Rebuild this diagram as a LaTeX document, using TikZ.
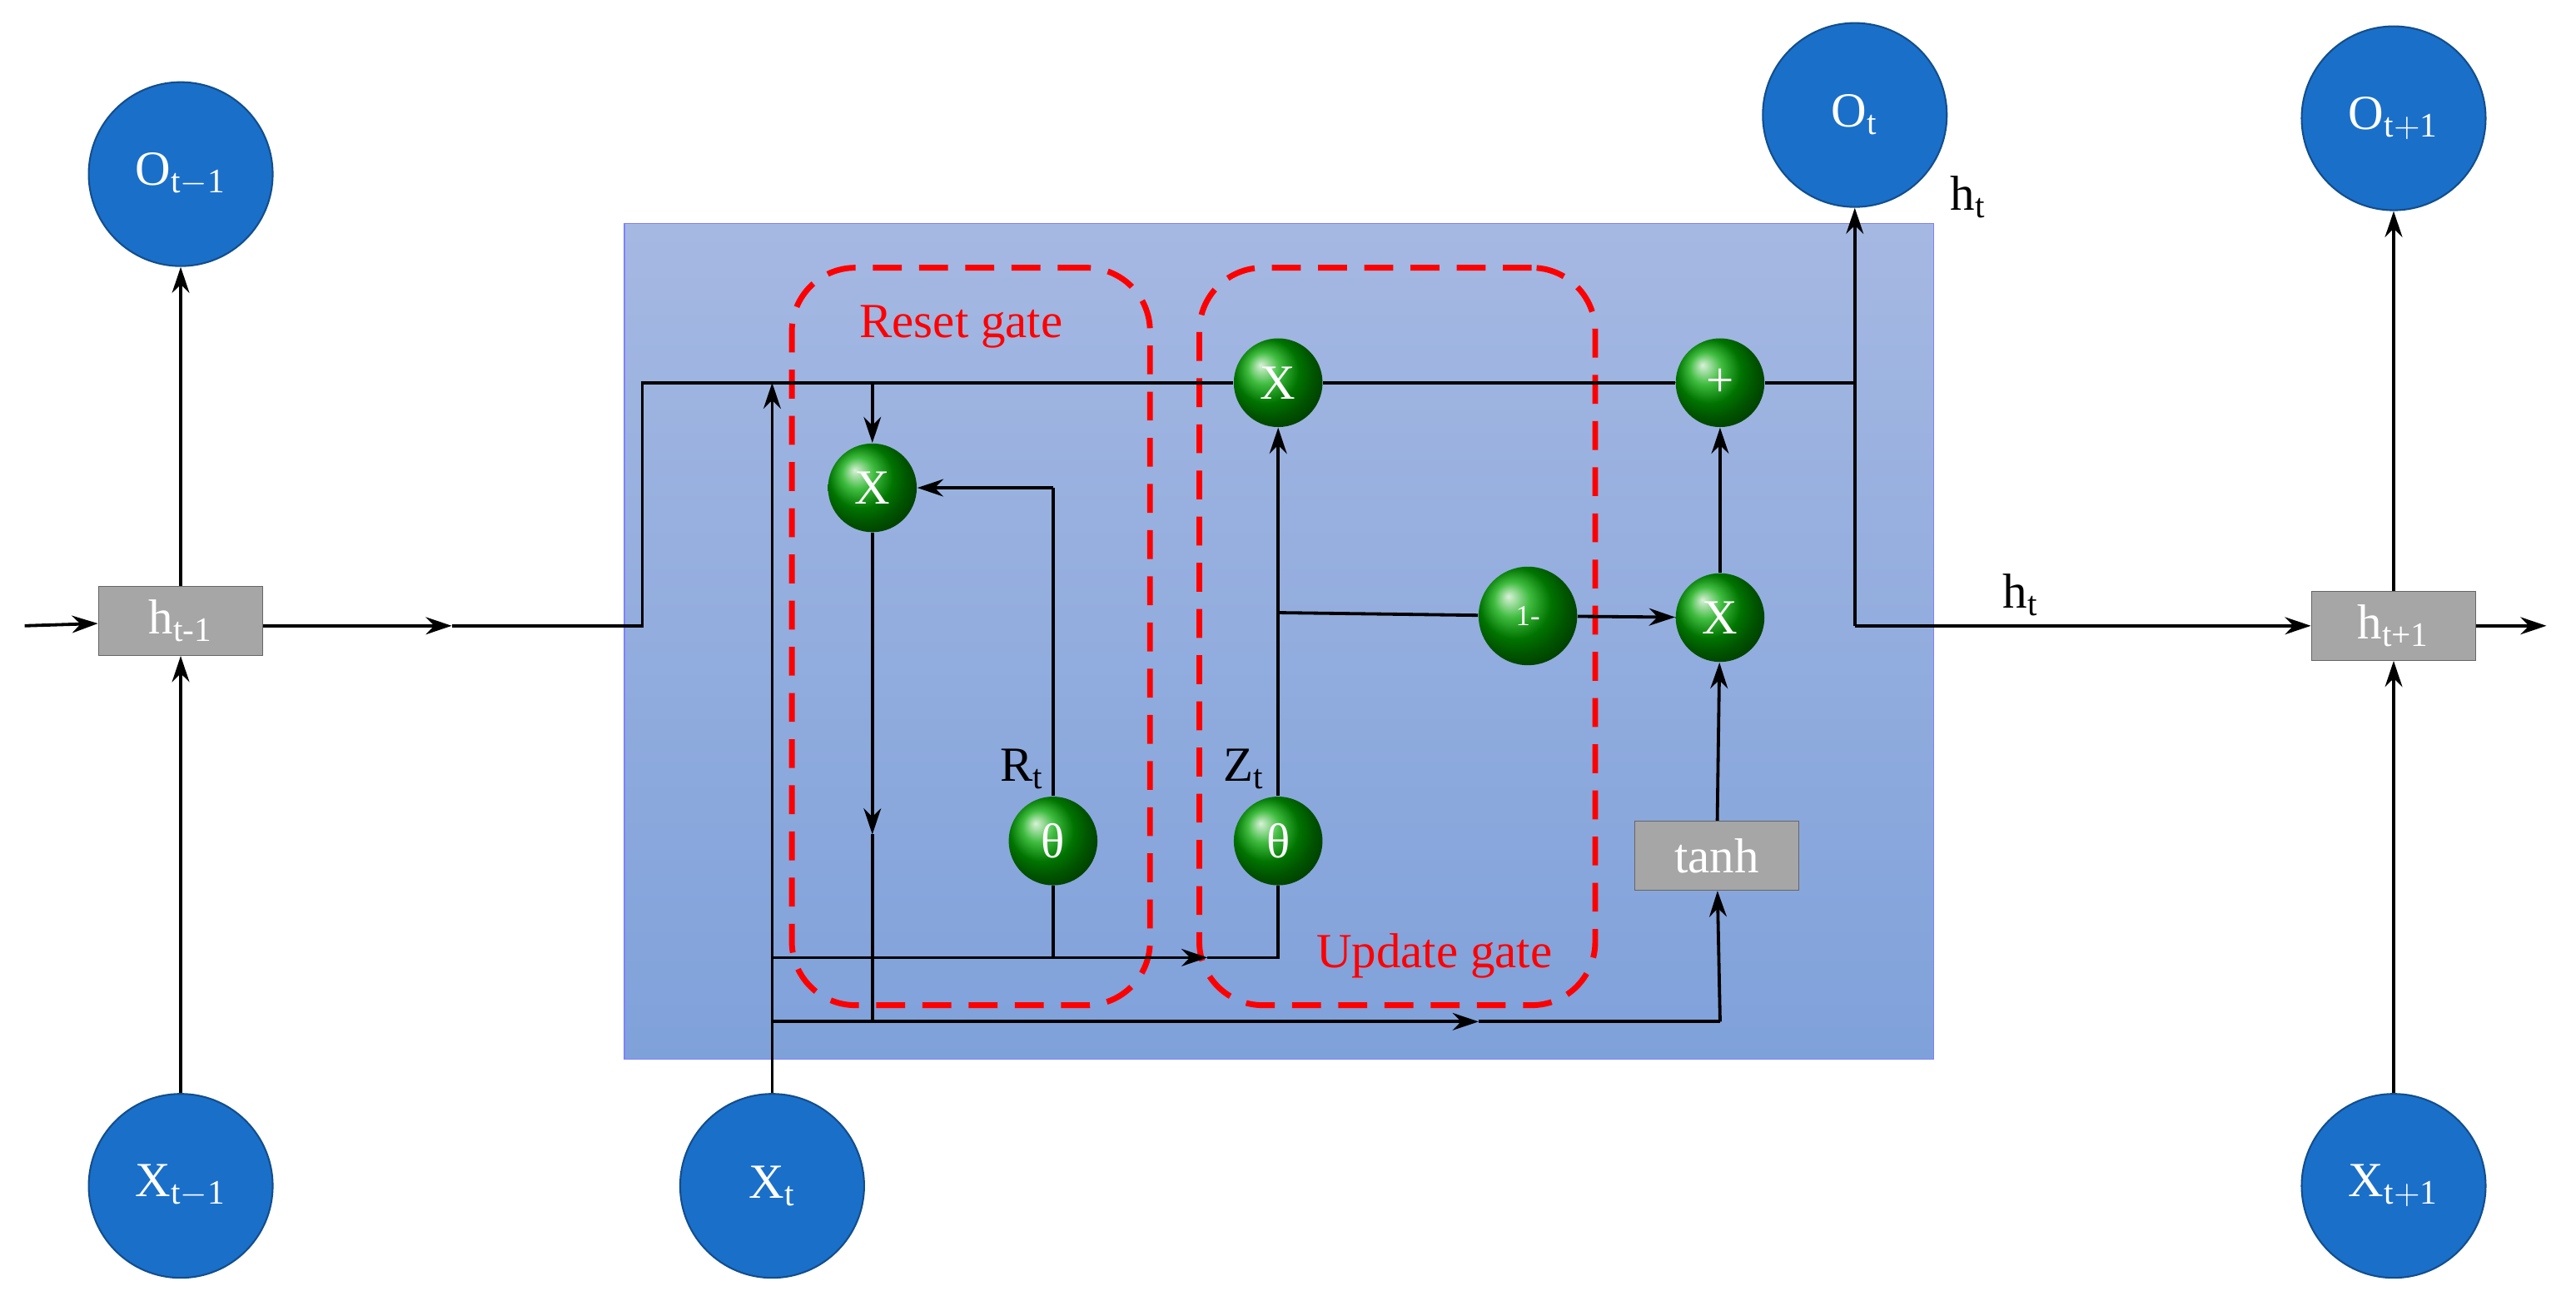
\documentclass[tikz,border=0pt]{standalone}
\usepackage{fontspec}
\setmainfont{Liberation Serif}
\usetikzlibrary{arrows.meta}
\definecolor{cblue}{HTML}{1A6FC9}
\definecolor{cgray}{HTML}{A6A6A6}
\definecolor{btop}{HTML}{A5B8E2}
\definecolor{bbot}{HTML}{7FA1DA}
\begin{document}
\begin{tikzpicture}[x=0.02cm,y=-0.02cm,
  ar/.style={-{Stealth[length=9pt,width=6pt]},line width=1.1pt},
  ln/.style={line width=1.1pt},
  bc/.style={circle,fill=cblue,draw=cblue!70!black,line width=0.6pt,minimum size=112*0.02cm,inner sep=0,text=white,font=\fontsize{17}{17}\selectfont},
  gc/.style={circle,ball color=green!65!black,minimum size=54*0.02cm,inner sep=0,text=white,font=\fontsize{17}{17}\selectfont},
  gr/.style={rectangle,fill=cgray,draw=gray!80!black,minimum width=100*0.02cm,minimum height=42*0.02cm,inner sep=0,text=white,font=\fontsize{17}{17}\selectfont},
  rd/.style={draw=red,dashed,dash pattern=on 10pt off 6pt,line width=2pt,rounded corners=22pt},
  lb/.style={font=\fontsize{17}{17}\selectfont}]
\useasboundingbox (0,0) rectangle (1568,792);
\shade[top color=btop, bottom color=bbot, draw=blue!50] (380,136) rectangle (1177,645);
% nodes
\node[bc] (Om) at (110,106) {O$_{\mathrm{t-1}}$};
\node[bc] (Xm) at (110,722) {X$_{\mathrm{t-1}}$};
\node[bc] (Xt) at (470,722) {X$_{\mathrm{t}}$};
\node[bc] (Ot) at (1129,70) {O$_{\mathrm{t}}$};
\node[bc] (Op) at (1457,72) {O$_{\mathrm{t+1}}$};
\node[bc] (Xp) at (1457,722) {X$_{\mathrm{t+1}}$};
\node[gr] (hm) at (110,378) {h\textsubscript{t-1}};
\node[gr] (hp) at (1457,381) {h\textsubscript{t+1}};
\node[gr] (tanh) at (1045,521) {tanh};
\node[gc] (x1) at (531,297) {X};
\node[gc] (x2) at (778,233) {X};
\node[gc] (pl) at (1047,233) {+};
\node[gc,minimum size=60*0.02cm,font=\fontsize{10}{10}\selectfont] (om) at (930,375) {1-};
\node[gc] (x3) at (1047,376) {X};
\node[gc] (t1) at (641,512) {θ};
\node[gc] (t2) at (778,512) {θ};
\node[rd] (rg) at (591,387.5) [minimum width=218*0.02cm,minimum height=449*0.02cm] {};
\node[rd] (ug) at (850.5,387.5) [minimum width=241*0.02cm,minimum height=449*0.02cm] {};
\node[lb,text=red] (rgt) at (585,199) {Reset gate};
\node[lb,text=red] (ugt) at (873,582) {Update gate};
\node[lb] (rt) at (622,468) {R\textsubscript{t}};
\node[lb] (zt) at (757,468) {Z\textsubscript{t}};
\node[lb] (ht1) at (1198,120) {h\textsubscript{t}};
\node[lb] (ht2) at (1230,362) {h\textsubscript{t}};
% coordinates
\coordinate (in) at (15,381);
\coordinate (out) at (1550,381);
\coordinate (a1) at (275,381);
\coordinate (a2) at (391,381);
\coordinate (a3) at (391,233);
\coordinate (j) at (1129,233);
\coordinate (j2) at (1129,381);
\coordinate (xu) at (470,233);
\coordinate (r1) at (470,583);
\coordinate (r2) at (735,583);
\coordinate (r3) at (778,583);
\coordinate (r4) at (641,583);
\coordinate (s1) at (470,622);
\coordinate (s2) at (900,622);
\coordinate (s3) at (1047,622);
\coordinate (c1) at (531,233);
\coordinate (c2) at (641,297);
\coordinate (c3) at (531,508);
\coordinate (c4) at (531,622);
\coordinate (c5) at (778,373);
% left/right cells
\draw[ar] (in) -- (hm);
\draw[ar] (Xm) -- (hm);
\draw[ar] (hm) -- (Om);
\draw[ar] (hm.east|-a1) -- (a1);
\draw[ln] (a1) -- (a2) -- (a3) -- (x2);
\draw[ln] (x2) -- (pl);
\draw[ln] (pl) -- (j);
\draw[ar] (j) -- (Ot);
\draw[ln] (j) -- (j2);
\draw[ar] (j2) -- (hp.west|-j2);
\draw[ar] (hp.east|-out) -- (out);
\draw[ar] (Xp) -- (hp);
\draw[ar] (hp) -- (Op);
% X_t
\draw[ar] (Xt) -- (xu);
\draw[ar] (r1) -- (r2);
\draw[ln] (r2) -- (r3) -- (t2);
\draw[ln] (r4) -- (t1);
\draw[ar] (s1) -- (s2);
\draw[ln] (s2) -- (s3);
\draw[ar] (s3) -- (tanh);
% reset
\draw[ar] (c1) -- (x1);
\draw[ln] (t1) -- (c2);
\draw[ar] (c2) -- (x1);
\draw[ar] (x1) -- (c3);
\draw[ln] (c3) -- (c4);
% update
\draw[ar] (t2) -- (x2);
\draw[ln] (c5) -- (om);
\draw[ar] (om) -- (x3);
\draw[ar] (tanh) -- (x3);
\draw[ar] (x3) -- (pl);
\end{tikzpicture}
\end{document}
